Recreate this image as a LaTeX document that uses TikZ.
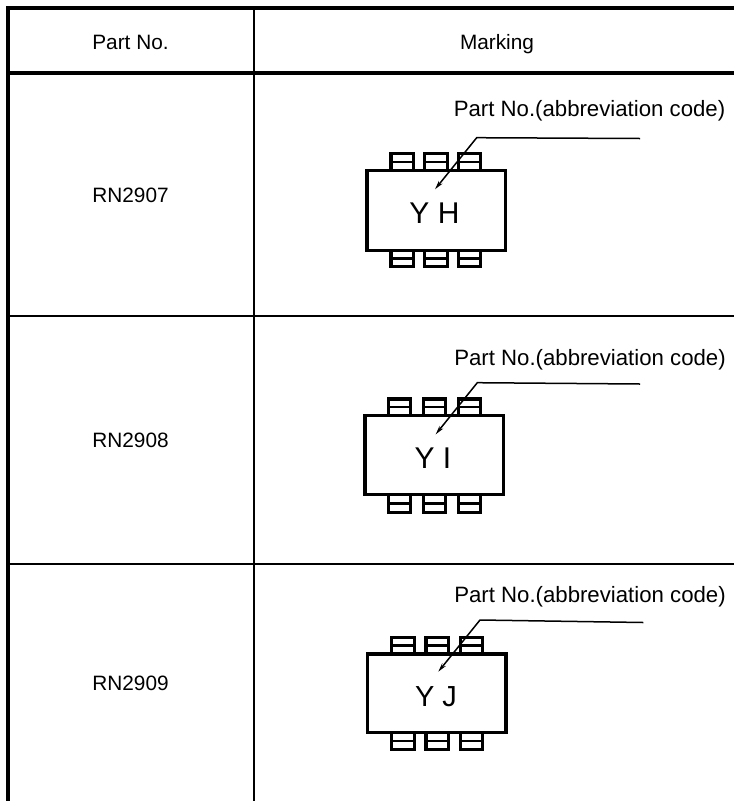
\documentclass[tikz,border=0pt]{standalone}
\usepackage{fontspec}
\setmainfont{Liberation Sans}
\usetikzlibrary{arrows.meta}
\newcommand{\chippkg}[8]{% left top right bottom leadtop leadbottom lead1 lead2 (lead3 = 2*lead2-lead1)
  \draw[chipbody] (#1,#2) rectangle (#3,#4);
  \foreach \lx in {#7,#8,{2*#8-#7}}{
    \pgfmathsetmacro{\lxr}{\lx+22.5}
    \pgfmathsetmacro{\ymidt}{(#5+#2)/2}
    \pgfmathsetmacro{\ymidb}{(#6+#4)/2}
    \draw[chiplead] (\lx,#2) -- (\lx,#5) -- (\lxr,#5) -- (\lxr,#2);
    \draw[chiplead] (\lx,#4) -- (\lx,#6) -- (\lxr,#6) -- (\lxr,#4);
    \draw[chipbar] (\lx,\ymidt) -- (\lxr,\ymidt);
    \draw[chipbar] (\lx,\ymidb) -- (\lxr,\ymidb);
  }
}
\begin{document}
\begin{tikzpicture}[x=1pt,y=-1pt,
  heavyrule/.style={line width=4pt},
  lightrule/.style={line width=2pt},
  chiplead/.style={line width=3.2pt},
  chipbar/.style={line width=2.4pt},
  chipbody/.style={line width=3.6pt},
  leader/.style={line width=1.5pt,-{Stealth[length=9pt,width=4.5pt]}},
  celltext/.style={font=\fontsize{20.8}{24}\selectfont,inner sep=0pt,text=black,anchor=base},
  notetext/.style={font=\fontsize{22.2}{26}\selectfont,inner sep=0pt,text=black,anchor=base},
  marktext/.style={font=\fontsize{30}{34}\selectfont,inner sep=0pt,text=black,anchor=base}]
\useasboundingbox (0,0) rectangle (734,801);
% table frame
\draw[heavyrule] (8,801) -- (8,8) -- (734,8);
\draw[heavyrule] (6,72.7) -- (734,72.7);
\draw[lightrule] (6,316) -- (734,316);
\draw[lightrule] (6,564) -- (734,564);
\draw[lightrule] (254.3,8) -- (254.3,801);
% cell text
\node[celltext] (hpart) at (130.5,49.3) {Part No.};
\node[celltext] (hmark) at (497,49.3) {Marking};
\node[celltext] (r1) at (130.5,202.3) {RN2907};
\node[celltext] (r2) at (130.5,447.3) {RN2908};
\node[celltext] (r3) at (130.5,690) {RN2909};
% notes
\node[notetext] (n1) at (589.5,116.7) {Part No.(abbreviation code)};
\node[notetext] (n2) at (590,365) {Part No.(abbreviation code)};
\node[notetext] (n3) at (590,602.7) {Part No.(abbreviation code)};
% package 1
\chippkg{367}{170.5}{505.5}{250.5}{153.6}{266.4}{390.9}{424.6}
\node[marktext] (m1) at (434.5,223.3) {Y H};
\coordinate (a1) at (640,138.5);
\coordinate (b1) at (476.7,137.7);
\coordinate (c1) at (435,189.3);
\draw[leader] (a1) -- (b1) -- (c1);
% package 2
\chippkg{365}{415.5}{503.5}{494.5}{398.9}{512.4}{388.3}{423.3}
\node[marktext] (m2) at (433,468.3) {Y I};
\coordinate (a2) at (640,384);
\coordinate (b2) at (477.3,382.7);
\coordinate (c2) at (435.7,434.3);
\draw[leader] (a2) -- (b2) -- (c2);
% package 3
\chippkg{367.5}{654}{505.8}{732.5}{637.3}{749.7}{391.6}{425.9}
\node[marktext,font=\fontsize{29}{33}\selectfont] (m3) at (436,706.7) {Y J};
\coordinate (a3) at (643.3,622.5);
\coordinate (b3) at (480,620);
\coordinate (c3) at (438.3,671.7);
\draw[leader] (a3) -- (b3) -- (c3);
\end{tikzpicture}
\end{document}
